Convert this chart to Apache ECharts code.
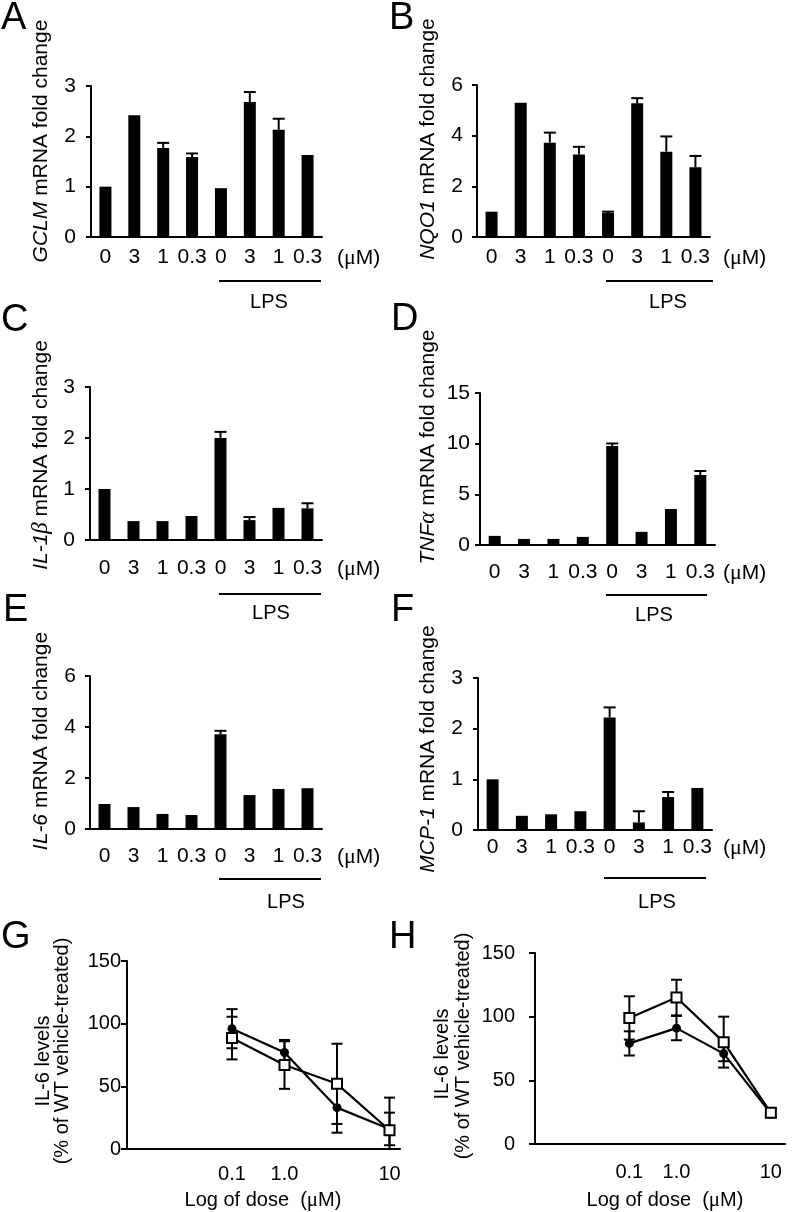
<!DOCTYPE html>
<html><head><meta charset="utf-8">
<script src="https://cdn.jsdelivr.net/npm/echarts@6/dist/echarts.min.js"></script>
<style>html,body{margin:0;padding:0;background:#fff}#c{width:796px;height:1212px}</style>
</head><body><div id="c"></div>
<script>
// ---------- DATA ----------
const doseCats = ['0', '3', '1', '0.3', '0', '3', '1', '0.3'];

const gclmVals = [1.0, 2.42, 1.77, 1.59, 0.97, 2.68, 2.13, 1.63];
const gclmErr  = [0, 0, 0.1, 0.07, 0, 0.2, 0.22, 0];

const nqo1Vals = [1.0, 5.3, 3.72, 3.26, 0.95, 5.28, 3.37, 2.75];
const nqo1Err  = [0, 0, 0.4, 0.3, 0.05, 0.2, 0.6, 0.45];

const il1bVals = [1.0, 0.37, 0.37, 0.47, 2.0, 0.39, 0.63, 0.62];
const il1bErr  = [0, 0, 0, 0, 0.12, 0.06, 0, 0.1];

const tnfaVals = [0.9, 0.6, 0.6, 0.8, 9.77, 1.3, 3.55, 6.9];
const tnfaErr  = [0, 0, 0, 0, 0.25, 0, 0, 0.4];

const il6Vals  = [0.98, 0.86, 0.59, 0.55, 3.72, 1.33, 1.57, 1.6];
const il6Err   = [0, 0, 0, 0, 0.13, 0, 0, 0];

const mcp1Vals = [1.0, 0.28, 0.31, 0.37, 2.22, 0.15, 0.65, 0.83];
const mcp1Err  = [0, 0, 0, 0, 0.2, 0.22, 0.1, 0];

// dose-response panels: dose position index and tick labels
const dosePos    = [1, 2, 3, 4];
const doseLabels = ['0.1', '1.0', '', '10'];

const gFilled    = [96, 77, 33, 16];
const gFilledErr = [15.6, 10, 20, 13];
const gOpen      = [88.5, 67, 52, 15];
const gOpenErr   = [17, 19, 32, 26];

const hFilled    = [79, 91, 71, 24];
const hFilledErr = [9.5, 9.5, 6, 3];
const hOpen      = [99, 115, 80, 24.5];
const hOpenErr   = [17, 14, 20, 3];

// ---------- STYLE / LAYOUT ----------
const FONT = '"Liberation Sans", Arial, Helvetica, sans-serif';
const SERIF = '"Liberation Serif", "Times New Roman", serif';

const barPanels = [
  {vals: gclmVals, errs: gclmErr, max: 3, interval: 1, grid: {left: 91, top: 86, width: 231, height: 151}, xm: 10, ym: 15},
  {vals: nqo1Vals, errs: nqo1Err, max: 6, interval: 2, grid: {left: 477, top: 85, width: 233, height: 152}, xm: 10, ym: 14},
  {vals: il1bVals, errs: il1bErr, max: 3, interval: 1, grid: {left: 90, top: 387, width: 232, height: 153}, xm: 18, ym: 15},
  {vals: tnfaVals, errs: tnfaErr, max: 15, interval: 5, grid: {left: 480, top: 393, width: 235, height: 152}, xm: 17, ym: 10},
  {vals: il6Vals,  errs: il6Err,  max: 6, interval: 2, grid: {left: 90, top: 676, width: 232, height: 153}, xm: 17, ym: 14},
  {vals: mcp1Vals, errs: mcp1Err, max: 3, interval: 1, grid: {left: 478, top: 678, width: 234, height: 152}, xm: 7, ym: 15}
];

const linePanels = [
  {filled: gFilled, filledErr: gFilledErr, open: gOpen, openErr: gOpenErr, grid: {left: 127, top: 961, width: 273, height: 188}, xmax: 4.2, ym: 6, xm: 15},
  {filled: hFilled, filledErr: hFilledErr, open: hOpen, openErr: hOpenErr, grid: {left: 535, top: 953, width: 250, height: 191}, xmax: 4.3, ym: 20, xm: 18}
];

function barErrRender(params, api) {
  const e = api.value(2);
  if (!e) return null;
  const x = api.value(0), v = api.value(1);
  const base = api.coord([x, v]);
  const top = api.coord([x, v + e]);
  const hw = 6;
  return {type: 'group', children: [
    {type: 'line', shape: {x1: base[0], y1: base[1], x2: top[0], y2: top[1]}, style: {stroke: '#000', lineWidth: 2}},
    {type: 'line', shape: {x1: top[0] - hw, y1: top[1], x2: top[0] + hw, y2: top[1]}, style: {stroke: '#000', lineWidth: 2}}
  ]};
}
function lineErrRender(params, api) {
  const x = api.value(0), v = api.value(1), e = api.value(2);
  const top = api.coord([x, v + e]);
  const bot = api.coord([x, Math.max(0, v - e)]);
  const hw = 5.5;
  return {type: 'group', children: [
    {type: 'line', shape: {x1: top[0], y1: top[1], x2: bot[0], y2: bot[1]}, style: {stroke: '#000', lineWidth: 2}},
    {type: 'line', shape: {x1: top[0] - hw, y1: top[1], x2: top[0] + hw, y2: top[1]}, style: {stroke: '#000', lineWidth: 2}},
    {type: 'line', shape: {x1: bot[0] - hw, y1: bot[1], x2: bot[0] + hw, y2: bot[1]}, style: {stroke: '#000', lineWidth: 2}}
  ]};
}

const grids = [], xAxes = [], yAxes = [], series = [];
const axisLineStyle = {color: '#000', width: 2};

barPanels.forEach((p, i) => {
  grids.push(Object.assign({containLabel: false}, p.grid));
  xAxes.push({
    type: 'category', gridIndex: i, data: doseCats, boundaryGap: true,
    axisLine: {lineStyle: axisLineStyle}, axisTick: {show: false},
    axisLabel: {color: '#000', fontSize: 21, fontFamily: FONT, margin: p.xm, interval: 0}
  });
  yAxes.push({
    type: 'value', gridIndex: i, min: 0, max: p.max, interval: p.interval,
    axisLine: {show: true, lineStyle: axisLineStyle},
    axisTick: {show: true, length: 5, lineStyle: {color: '#000', width: 2}},
    axisLabel: {color: '#000', fontSize: 21, fontFamily: FONT, margin: p.ym},
    splitLine: {show: false}
  });
  series.push({
    type: 'bar', xAxisIndex: i, yAxisIndex: i, data: p.vals, barWidth: 12,
    itemStyle: {color: '#000'}, z: 2
  });
  series.push({
    type: 'custom', xAxisIndex: i, yAxisIndex: i, renderItem: barErrRender,
    data: p.vals.map((v, k) => [k, v, p.errs[k]]), encode: {x: 0, y: 1}, z: 3
  });
});

linePanels.forEach((p, j) => {
  const i = barPanels.length + j;
  grids.push(Object.assign({containLabel: false}, p.grid));
  xAxes.push({
    type: 'value', gridIndex: i, min: -1, max: p.xmax, interval: 1,
    axisLine: {show: true, onZero: false, lineStyle: axisLineStyle}, axisTick: {show: false}, splitLine: {show: false},
    axisLabel: {
      color: '#000', fontSize: 20, fontFamily: FONT, margin: p.xm,
      showMaxLabel: false,
      formatter: v => { const k = dosePos.indexOf(v); return k >= 0 ? doseLabels[k] : ''; }
    }
  });
  yAxes.push({
    type: 'value', gridIndex: i, min: 0, max: 150, interval: 50,
    axisLine: {show: true, onZero: false, lineStyle: axisLineStyle},
    axisTick: {show: true, length: 6, lineStyle: {color: '#000', width: 2}},
    axisLabel: {color: '#000', fontSize: 20, fontFamily: FONT, margin: p.ym},
    splitLine: {show: false}
  });
  series.push({type: 'custom', xAxisIndex: i, yAxisIndex: i, renderItem: lineErrRender,
    data: dosePos.map((x, k) => [x, p.filled[k], p.filledErr[k]]), encode: {x: 0, y: 1}, z: 1});
  series.push({type: 'custom', xAxisIndex: i, yAxisIndex: i, renderItem: lineErrRender,
    data: dosePos.map((x, k) => [x, p.open[k], p.openErr[k]]), encode: {x: 0, y: 1}, z: 1});
  series.push({type: 'line', xAxisIndex: i, yAxisIndex: i,
    data: dosePos.map((x, k) => [x, p.filled[k]]),
    symbol: 'circle', symbolSize: 9, showAllSymbol: true,
    itemStyle: {color: '#000'}, lineStyle: {color: '#000', width: 2.2}, z: 2});
  series.push({type: 'line', xAxisIndex: i, yAxisIndex: i,
    data: dosePos.map((x, k) => [x, p.open[k]]),
    symbol: 'rect', symbolSize: 10, showAllSymbol: true,
    itemStyle: {color: '#fff', borderColor: '#000', borderWidth: 2}, lineStyle: {color: '#000', width: 2.2}, z: 3});
});

// ---------- ANNOTATIONS ----------
const graphic = [];
function letter(t, x, y) {
  graphic.push({type: 'text', x: x, y: y, style: {text: t, fontSize: 38, fontFamily: FONT, fill: '#000', textAlign: 'left', textVerticalAlign: 'middle'}});
}
function vtitle(text, rich, x, y, size) {
  graphic.push({type: 'text', x: x, y: y, rotation: Math.PI / 2,
    style: {text: text, rich: rich || {}, fontSize: size || 21, fontFamily: FONT, fill: '#000', textAlign: 'center', textVerticalAlign: 'middle'}});
}
function text(t, x, y, size, align) {
  graphic.push({type: 'text', x: x, y: y, style: {text: t, fontSize: size || 20, fontFamily: FONT, fill: '#000', textAlign: align || 'center', textVerticalAlign: 'middle'}});
}
function umol(x, y, size, align) {
  graphic.push({type: 'text', x: x, y: y, style: {
    text: '(' + '{m|\u03bc}' + 'M)',
    rich: {m: {fontFamily: SERIF, fontSize: (size || 21) + 1, fill: '#000'}},
    fontSize: size || 21, fontFamily: FONT, fill: '#000', textAlign: align || 'left', textVerticalAlign: 'middle'}});
}
function hline(x1, x2, y) {
  graphic.push({type: 'line', shape: {x1: x1, y1: y, x2: x2, y2: y}, style: {stroke: '#000', lineWidth: 2}});
}

letter('A', 1, 19); letter('B', 389, 19);
letter('C', 1, 321); letter('D', 391, 320);
letter('E', 3, 611); letter('F', 391, 611);
letter('G', 1, 938); letter('H', 389, 938);

const it = {i: {fontStyle: 'italic', fontSize: 21, fontFamily: FONT, fill: '#000'},
            g: {fontStyle: 'italic', fontSize: 23, fontFamily: SERIF, fill: '#000'}};
vtitle('{i|GCLM} mRNA fold change', it, 41, 141);
vtitle('{i|NQO1} mRNA fold change', it, 428, 139);
vtitle('{i|IL-1}{g|\u03b2} mRNA fold change', it, 41, 455);
vtitle('{i|TNF}{g|\u03b1} mRNA fold change', it, 428, 447);
vtitle('{i|IL-6} mRNA fold change', it, 41, 741);
vtitle('{i|MCP-1} mRNA fold change', it, 428, 749);

vtitle('IL-6 levels', null, 43, 1061, 20);
vtitle('(% of WT vehicle-treated)', null, 62, 1051, 20);
vtitle('IL-6 levels', null, 442, 1054, 20);
vtitle('(% of WT vehicle-treated)', null, 463, 1046, 20);

umol(337, 258); umol(723, 258);
umol(337, 569); umol(723, 573);
umol(337, 857); umol(723, 848);

hline(219, 321, 281); text('LPS', 269, 302, 20);
hline(606, 713, 281); text('LPS', 668, 302, 20);
hline(219, 321, 594); text('LPS', 271, 613, 20);
hline(606, 707, 595); text('LPS', 654, 615, 20);
hline(219, 321, 879); text('LPS', 286, 902, 20);
hline(604, 706, 878); text('LPS', 657, 902, 20);

graphic.push({type: 'text', x: 263, y: 1200, style: {text: 'Log of dose  (' + '{m|\u03bc}' + 'M)', rich: {m: {fontFamily: SERIF, fontSize: 21, fill: '#000'}}, fontSize: 20, fontFamily: FONT, fill: '#000', textAlign: 'center', textVerticalAlign: 'middle'}});
graphic.push({type: 'text', x: 665, y: 1200, style: {text: 'Log of dose  (' + '{m|\u03bc}' + 'M)', rich: {m: {fontFamily: SERIF, fontSize: 21, fill: '#000'}}, fontSize: 20, fontFamily: FONT, fill: '#000', textAlign: 'center', textVerticalAlign: 'middle'}});

const chart = echarts.init(document.getElementById('c'), null, {renderer: 'canvas'});
chart.setOption({
  animation: false,
  backgroundColor: '#fff',
  grid: grids, xAxis: xAxes, yAxis: yAxes, series: series,
  graphic: graphic
});
</script>
</body></html>
